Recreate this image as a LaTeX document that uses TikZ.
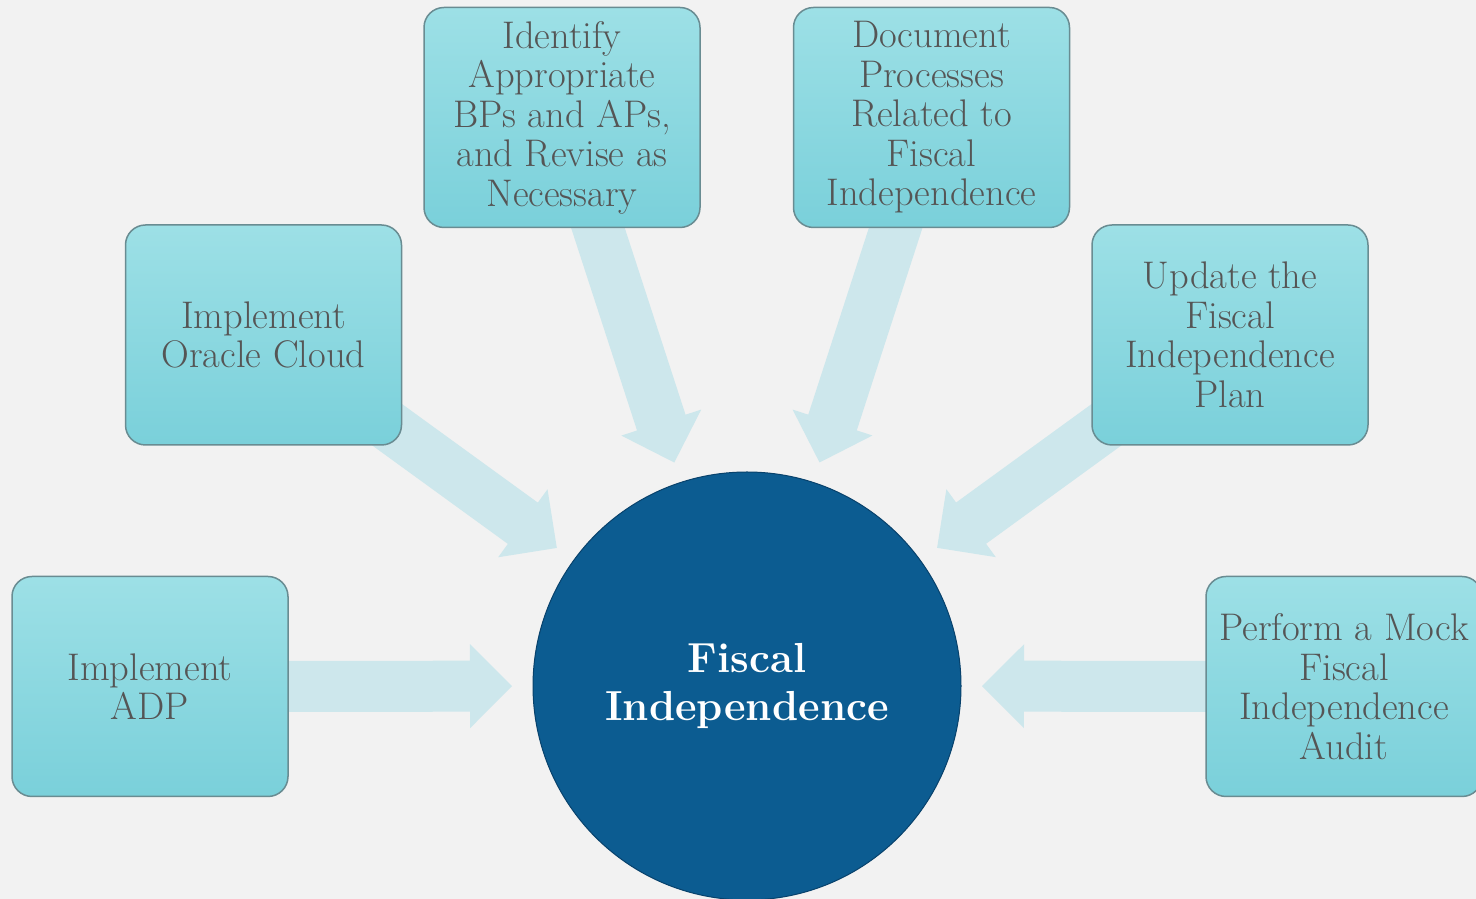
\documentclass[tikz,border=0pt]{standalone}
\usetikzlibrary{calc}
\pgfdeclarelayer{bg}
\pgfdeclarelayer{arrowlayer}
\pgfsetlayers{bg,arrowlayer,main}
\definecolor{bgc}{RGB}{242,242,242}
\definecolor{arrowc}{RGB}{205,231,236}
\definecolor{boxtop}{RGB}{157,224,230}
\definecolor{boxbot}{RGB}{122,208,218}
\definecolor{boxline}{RGB}{105,140,146}
\definecolor{txt}{RGB}{85,85,85}
\definecolor{circ}{RGB}{12,92,145}
\definecolor{circline}{RGB}{8,66,108}
\newcommand\radarrow[1]{%
  \coordinate (#1h) at ($(C.center)!277pt!(#1.center)$);
  \fill[arrowc] ($(C.center)!235pt!(#1.center)$)
    -- ($(#1h)!42pt!90:(C.center)$)
    -- ($(#1h)!25.5pt!90:(C.center)$)
    -- ($(#1.center)!25.5pt!90:(C.center)$)
    -- ($(#1.center)!25.5pt!-90:(C.center)$)
    -- ($(#1h)!25.5pt!-90:(C.center)$)
    -- ($(#1h)!42pt!-90:(C.center)$)
    -- cycle;}
\begin{document}
\begin{tikzpicture}[x=1pt,y=1pt,
  stepbox/.style={draw=boxline, line width=1.5pt, rounded corners=20pt,
    top color=boxtop, bottom color=boxbot, minimum width=276pt,
    minimum height=220pt, inner sep=0pt, align=center, text=txt,
    font=\fontsize{38.5}{39.5}\selectfont},
  hub/.style={circle, fill=circ, draw=circline, line width=1pt,
    minimum size=428pt, inner sep=0pt, align=center, text=white,
    font=\fontsize{42}{48}\selectfont\bfseries}]
\useasboundingbox (0,0) rectangle (1476,899);
\begin{pgfonlayer}{bg}
\fill[bgc] (0,0) rectangle (1476,899);
\end{pgfonlayer}
\clip (0,0) rectangle (1476,899);
\node[hub] (C) at (747,213) {Fiscal\\Independence};
\node[stepbox] (adp) at (150,212.5) {Implement\\ADP};
\node[stepbox] (ora) at (263.5,564) {Implement\\Oracle Cloud};
\node[stepbox] (idf) at (562,781.5) {Identify\\Appropriate\\BPs and APs,\\and Revise as\\Necessary};
\node[stepbox] (doc) at (931.5,781.5) {Document\\Processes\\Related to\\Fiscal\\Independence};
\node[stepbox] (upd) at (1230,564) {Update the\\Fiscal\\Independence\\Plan};
\node[stepbox] (mock) at (1344,212.5) {Perform a Mock\\Fiscal\\Independence\\Audit};
\begin{pgfonlayer}{arrowlayer}
\radarrow{adp}
\radarrow{ora}
\radarrow{idf}
\radarrow{doc}
\radarrow{upd}
\radarrow{mock}
\end{pgfonlayer}
\end{tikzpicture}
\end{document}
